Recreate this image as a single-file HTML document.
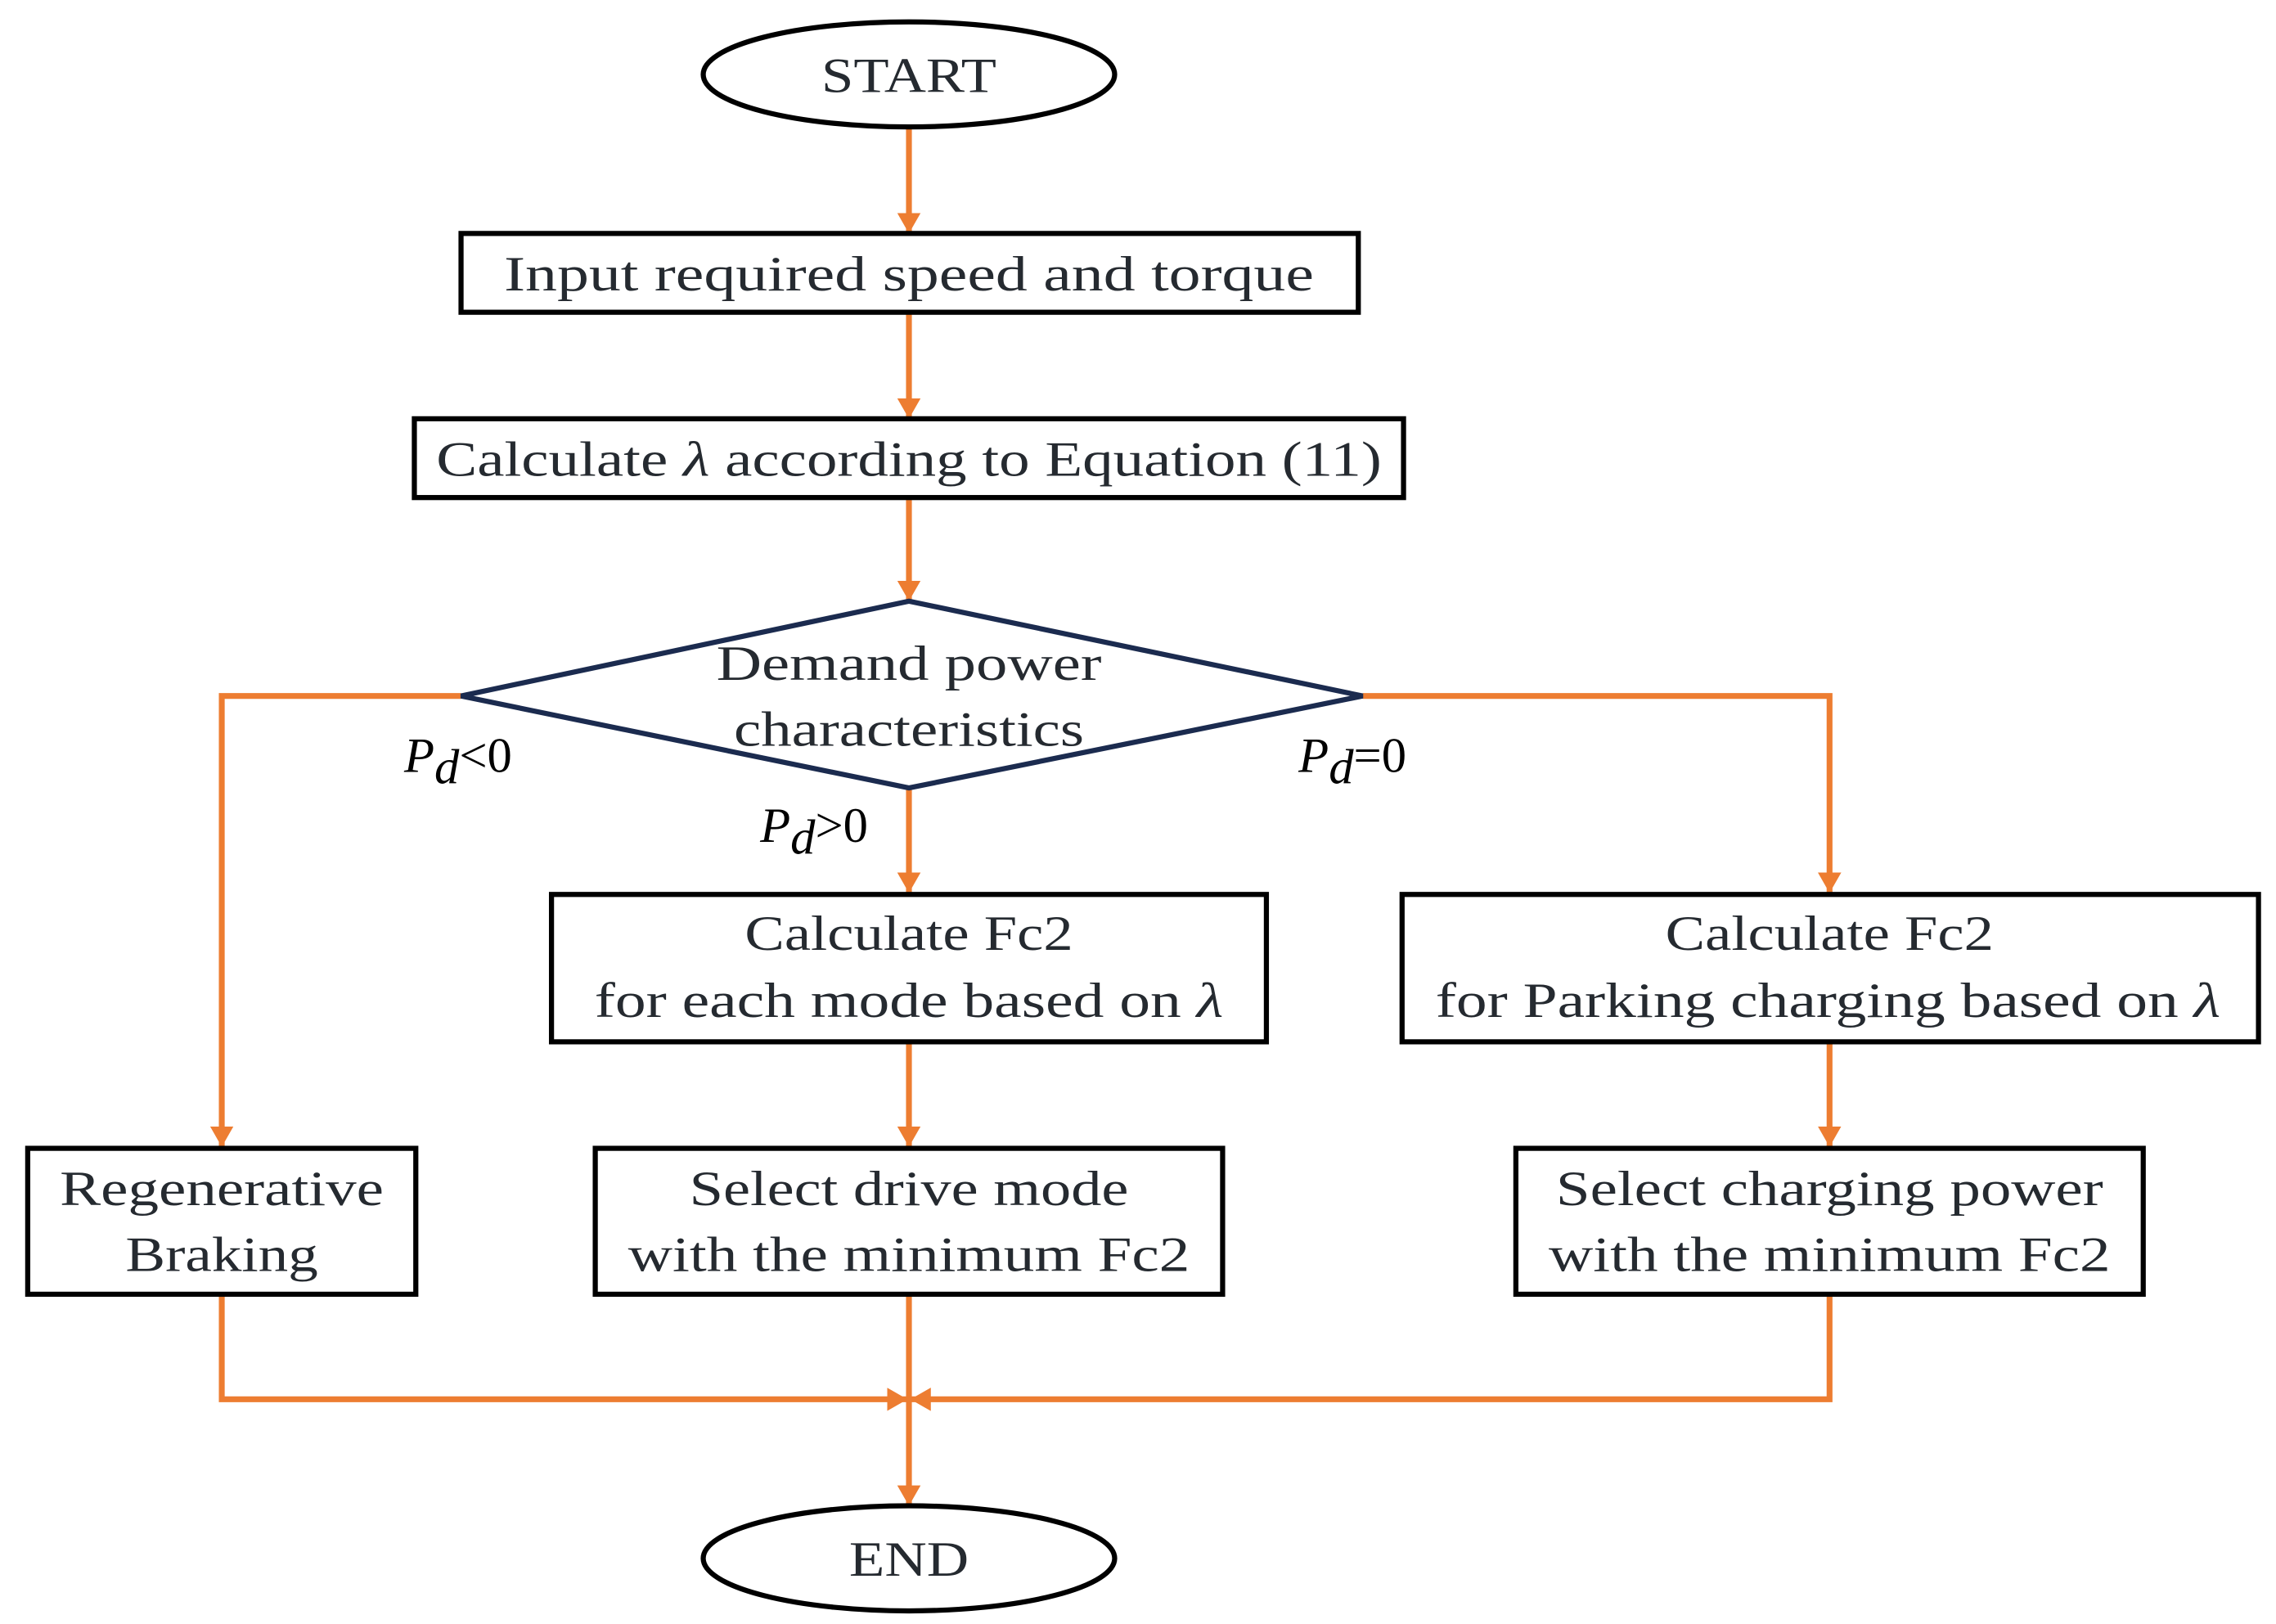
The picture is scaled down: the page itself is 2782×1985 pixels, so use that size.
<!DOCTYPE html>
<html><head><meta charset="utf-8"><style>html,body{margin:0;padding:0;background:#fff}svg{display:block}</style></head>
<body>
<svg width="2782" height="1985" viewBox="0 0 1560 1113" preserveAspectRatio="none" xmlns="http://www.w3.org/2000/svg">
<defs>
<marker id="a" viewBox="0 0 14 16" refX="14" refY="8" markerWidth="14" markerHeight="16" markerUnits="userSpaceOnUse" orient="auto"><path d="M0,0 L14,8 L0,16 Z" fill="#ed7d31"/></marker>
</defs>
<g fill="none" stroke="#ed7d31" stroke-width="4">
<path d="M623,88 V160" marker-end="url(#a)"/>
<path d="M623,214 V287" marker-end="url(#a)"/>
<path d="M623,341 V412" marker-end="url(#a)"/>
<path d="M623,540 V612" marker-end="url(#a)"/>
<path d="M316,477 H152 V786" marker-end="url(#a)"/>
<path d="M934,477 H1254 V612" marker-end="url(#a)"/>
<path d="M623,714 V786" marker-end="url(#a)"/>
<path d="M1254,714 V786" marker-end="url(#a)"/>
<path d="M152,887 V959 H622" marker-end="url(#a)"/>
<path d="M1254,887 V959 H624" marker-end="url(#a)"/>
<path d="M623,887 V1032" marker-end="url(#a)"/>
</g>
<g fill="#fff" stroke="#000" stroke-width="3.5">
<ellipse cx="623" cy="51" rx="141" ry="36"/>
<ellipse cx="623" cy="1068" rx="141" ry="36"/>
<rect x="316" y="160" width="615" height="54"/>
<rect x="284" y="287" width="678" height="54"/>
<rect x="378" y="613" width="490" height="101"/>
<rect x="961" y="613" width="587" height="101"/>
<rect x="19" y="787" width="266" height="100"/>
<rect x="408" y="787" width="430" height="100"/>
<rect x="1039" y="787" width="430" height="100"/>
</g>
<polygon points="623,412 934,477 623,540 316,477" fill="none" stroke="#1b2b4f" stroke-width="3.5"/>
<g font-family="Liberation Serif, serif" font-size="34" fill="#252a30" text-anchor="middle" lengthAdjust="spacingAndGlyphs">
<text x="623" y="63" textLength="120" lengthAdjust="spacingAndGlyphs">START</text>
<text x="623" y="199" textLength="555" lengthAdjust="spacingAndGlyphs">Input required speed and torque</text>
<text x="623" y="326" textLength="648" lengthAdjust="spacingAndGlyphs">Calculate <tspan font-style="italic">λ</tspan> according to Equation (11)</text>
<text x="623" y="466" textLength="264" lengthAdjust="spacingAndGlyphs">Demand power</text>
<text x="623" y="511" textLength="240" lengthAdjust="spacingAndGlyphs">characteristics</text>
<text x="623" y="651" textLength="225" lengthAdjust="spacingAndGlyphs">Calculate Fc2</text>
<text x="623" y="697" textLength="431" lengthAdjust="spacingAndGlyphs">for each mode based on <tspan font-style="italic">λ</tspan></text>
<text x="1254" y="651" textLength="225" lengthAdjust="spacingAndGlyphs">Calculate Fc2</text>
<text x="1253" y="697" textLength="538" lengthAdjust="spacingAndGlyphs">for Parking charging based on <tspan font-style="italic">λ</tspan></text>
<text x="152" y="826" textLength="222" lengthAdjust="spacingAndGlyphs">Regenerative</text>
<text x="152" y="871" textLength="132" lengthAdjust="spacingAndGlyphs">Braking</text>
<text x="623" y="826" textLength="301" lengthAdjust="spacingAndGlyphs">Select drive mode</text>
<text x="623" y="871" textLength="385" lengthAdjust="spacingAndGlyphs">with the minimum Fc2</text>
<text x="1254" y="826" textLength="375" lengthAdjust="spacingAndGlyphs">Select charging power</text>
<text x="1254" y="871" textLength="385" lengthAdjust="spacingAndGlyphs">with the minimum Fc2</text>
<text x="623" y="1080" textLength="82" lengthAdjust="spacingAndGlyphs">END</text>
</g>
<g font-family="Liberation Serif, serif" font-size="34" fill="#000">
<text x="277" y="529"><tspan font-style="italic">P</tspan><tspan font-style="italic" dy="8">d</tspan><tspan dy="-8">&lt;0</tspan></text>
<text x="890" y="529"><tspan font-style="italic">P</tspan><tspan font-style="italic" dy="8">d</tspan><tspan dy="-8">=0</tspan></text>
<text x="521" y="577"><tspan font-style="italic">P</tspan><tspan font-style="italic" dy="8">d</tspan><tspan dy="-8">&gt;0</tspan></text>
</g>
</svg>
</body></html>
